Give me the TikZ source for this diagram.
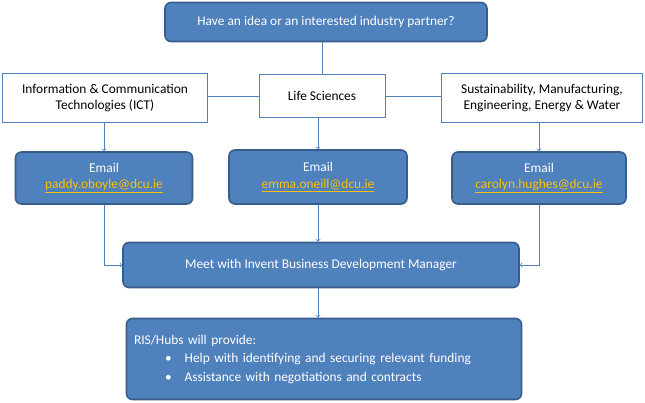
\documentclass[tikz,border=0pt]{standalone}
\usepackage{fontspec}
\setmainfont{Carlito}
\usetikzlibrary{positioning,arrows}
\definecolor{boxblue}{HTML}{4F81BD}
\definecolor{boxedge}{HTML}{385D8A}
\definecolor{linkcol}{HTML}{FFC000}
\newcommand{\maillink}[1]{\textcolor{linkcol}{\underline{#1}}}
\tikzset{
  bluebox/.style={draw=boxedge,line width=1.6pt,fill=boxblue,rounded corners=6pt,text=white,align=center,inner sep=0pt},
  catbox/.style={draw=boxblue,line width=0.8pt,fill=white,align=center,inner sep=0pt},
  link/.style={draw=boxblue,line width=0.8pt,-to,>=to,shorten >=0pt,arrows={-to[scale=1.6]}}
}
\begin{document}
\begin{tikzpicture}[x=1pt,y=-1pt,font=\fontsize{13.4}{16.5}\selectfont]
\useasboundingbox (0,0) rectangle (645,403);
% top question
\node[bluebox,minimum width=322pt,minimum height=39pt] (idea) at (326,22) {Have an idea or an interested industry partner?};
% areas
\node[catbox,minimum width=205pt,minimum height=49pt] (ict) at (105,98) {Information \& Communication\\Technologies (ICT)};
\node[catbox,minimum width=126pt,minimum height=43pt] (life) at (322,96) {Life Sciences};
\node[catbox,minimum width=201pt,minimum height=49pt] (sust) at (542,98) {Sustainability, Manufacturing,\\Engineering, Energy \& Water};
% emails
\node[bluebox,minimum width=177pt,minimum height=52pt] (mailA) at (104,178) {Email\\\maillink{paddy.oboyle@dcu.ie}};
\node[bluebox,minimum width=178pt,minimum height=54pt] (mailB) at (318,177) {Email\\\maillink{emma.oneill@dcu.ie}};
\node[bluebox,minimum width=174pt,minimum height=52pt] (mailC) at (539,178) {Email\\\maillink{carolyn.hughes@dcu.ie}};
% meeting and outcome
\node[bluebox,minimum width=396pt,minimum height=45pt] (meet) at (321,265) {Meet with Invent Business Development Manager};
\node[bluebox,minimum width=395pt,minimum height=81pt,align=left,text width=380pt] (ris) at (324,359)
  {RIS/Hubs will provide:\\[2pt]
   \hspace*{31pt}\textbullet\hspace{13pt}Help with identifying and securing relevant funding\\[2pt]
   \hspace*{31pt}\textbullet\hspace{13pt}Assistance with negotiations and contracts};
% connectors
\draw[draw=boxblue,line width=0.8pt] (idea.south -| life.north) -- (life.north);
\draw[draw=boxblue,line width=0.8pt] (ict.east |- life.west) -- (life.west) (life.east) -- (sust.west |- life.east);
\draw[link] (ict.south -| mailA.north) -- (mailA.north);
\draw[link] (life.south -| mailB.north) -- (mailB.north);
\draw[link] (sust.south -| mailC.north) -- (mailC.north);
\draw[link] (mailA.south) |- (meet.west);
\draw[link] (mailB.south) -- (mailB.south |- meet.north);
\draw[link] (mailC.south) |- (meet.east);
\draw[link] (meet.south -| mailB.south) -- (mailB.south |- ris.north);
\end{tikzpicture}
\end{document}
